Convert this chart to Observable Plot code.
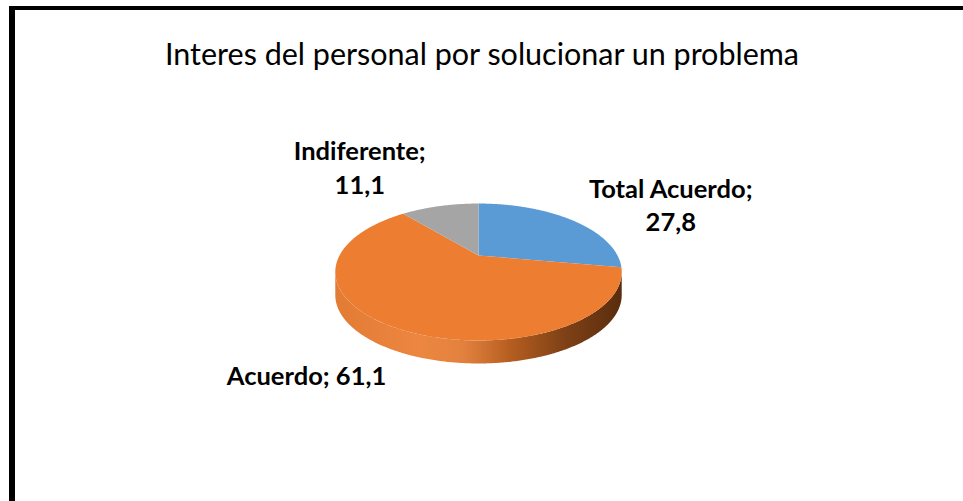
<!DOCTYPE html>
<html>
<head>
<meta charset="utf-8">
<script src="https://cdn.jsdelivr.net/npm/d3@7"></script>
<script src="https://cdn.jsdelivr.net/npm/@observablehq/plot@0.6"></script>
<style>
  html, body { margin: 0; padding: 0; background: #fff; overflow: hidden; }
  #wrap { position: relative; width: 963px; height: 501px; overflow: hidden; }
  #border { position: absolute; left: 9px; top: 6px; width: 1000px; height: 600px;
            border-left: 6px solid #000; border-top: 4px solid #000; box-sizing: border-box; }
  #chart { position: absolute; left: 0; top: 0; }
</style>
</head>
<body>
<div id="wrap"><div id="border"></div><div id="chart"></div></div>
<script>
// ---- data ----
const title = "Interes del personal por solucionar un problema";
const categories = ["Total Acuerdo", "Acuerdo", "Indiferente"];
const values = [27.8, 61.1, 11.1];
const valueLabels = ["27,8", "61,1", "11,1"];
const colors = ["#5b9bd5", "#ed7d31", "#a5a5a5"];

// ---- layout (3D perspective pie) ----
const W = 963, H = 501;
const cx = 478, cy = 255, a = 139, b = 64.5, c = 0.241, depth = 23;
function proj(theta, r = 1) {
  const X = r * Math.sin(theta), Z = -r * Math.cos(theta);
  const d = 1 - c * Z;
  return [cx + a * X / d, cy + b * Z / d];
}
const step = Math.PI / 360;
function arcPts(t0, t1, r = 1, dy = 0) {
  const n = Math.max(2, Math.ceil(Math.abs(t1 - t0) / step));
  const pts = [];
  for (let i = 0; i <= n; i++) {
    const t = t0 + (t1 - t0) * i / n;
    const [x, y] = proj(t, r);
    pts.push([x, y + dy]);
  }
  return pts;
}

const pie = d3.pie().sort(null).value((d, i) => values[i]);
const arcs = pie(categories);

// top faces
const topRows = [];
arcs.forEach((s, i) => {
  const pts = [[cx, cy], ...arcPts(s.startAngle, s.endAngle)];
  pts.forEach(([x, y]) => topRows.push({key: categories[i], cat: categories[i], x, y}));
});

// front walls (visible between the silhouette angles)
const th1 = Math.acos(-c), th2 = 2 * Math.PI - th1;
const wallRows = [];
arcs.forEach((s, i) => {
  const lo = Math.max(s.startAngle, th1), hi = Math.min(s.endAngle, th2);
  if (lo < hi) {
    const pts = [...arcPts(lo, hi), ...arcPts(hi, lo, 1, depth)];
    pts.forEach(([x, y]) => wallRows.push({key: categories[i], cat: categories[i], x, y}));
  }
});

// shadow
const shadowRows = arcPts(0, 2 * Math.PI, 1.01, depth + 4).map(([x, y]) => ({x, y}));
// rim bevel
const rimRows = arcPts(0, 2 * Math.PI, 0.978).map(([x, y]) => ({x, y}));

// labels
const labelShift = [[100, -16], [-84, 48], [-80, -40]];
const labelRows = arcs.map((s, i) => {
  const [x, y] = proj((s.startAngle + s.endAngle) / 2);
  const txt = i === 1 ? `${categories[i]}; ${valueLabels[i]}` : `${categories[i]};\n${valueLabels[i]}`;
  return {x: x + labelShift[i][0], y: y + labelShift[i][1], txt};
});

const chart = Plot.plot({
  width: W, height: H, margin: 0,
  x: {domain: [0, W], range: [0, W], axis: null},
  y: {domain: [0, H], range: [0, H], axis: null},
  color: {domain: categories, range: colors},
  marks: [
    Plot.line(shadowRows, {x: "x", y: "y", fill: "#000", fillOpacity: 0.2, stroke: "none", curve: "linear-closed", ariaLabel: "shadow"}),
    Plot.line(wallRows, {x: "x", y: "y", z: "key", fill: "url(#wallGrad)", stroke: "none", curve: "linear-closed"}),
    Plot.line(topRows, {x: "x", y: "y", z: "key", fill: "cat", stroke: "none", curve: "linear-closed"}),
    Plot.line(rimRows, {x: "x", y: "y", fill: "none", stroke: "url(#rimGrad)", strokeWidth: 5, curve: "linear-closed", ariaLabel: "rim"}),
    Plot.text([title], {text: d => d, frameAnchor: "top", dy: 55, lineAnchor: "middle", fontSize: 30.5, fontFamily: "Lato", fill: "#000"}),
    Plot.text(labelRows, {x: "x", y: "y", text: "txt", fontSize: 25.5, fontWeight: "bold", fontFamily: "Lato", lineHeight: 1.32, lineAnchor: "middle", fill: "#000"})
  ]
});

const svg = d3.select(chart);
const defs = svg.insert("defs", ":first-child");
const wg = defs.append("linearGradient").attr("id", "wallGrad").attr("gradientUnits", "userSpaceOnUse")
  .attr("x1", cx - 143).attr("x2", cx + 143).attr("y1", 0).attr("y2", 0);
[[0, "#e27c35"], [0.3, "#ec8640"], [0.45, "#e2813e"], [0.62, "#b35c1f"], [0.8, "#7f4116"], [1, "#5a2d0e"]]
  .forEach(([o, col]) => wg.append("stop").attr("offset", o).attr("stop-color", col));
const rg = defs.append("linearGradient").attr("id", "rimGrad").attr("gradientUnits", "userSpaceOnUse")
  .attr("x1", cx - 143).attr("x2", cx + 143).attr("y1", cy - 60).attr("y2", cy + 80);
[[0, "#fff", 0.16], [0.4, "#fff", 0.06], [0.65, "#000", 0.04], [1, "#000", 0.28]]
  .forEach(([o, col, op]) => rg.append("stop").attr("offset", o).attr("stop-color", col).attr("stop-opacity", op));
const f = defs.append("filter").attr("id", "blur").attr("x", "-20%").attr("y", "-20%").attr("width", "140%").attr("height", "140%");
f.append("feGaussianBlur").attr("stdDeviation", 4);
svg.select('g[aria-label="shadow"]').attr("filter", "url(#blur)");
const f2 = defs.append("filter").attr("id", "soft").attr("x", "-10%").attr("y", "-10%").attr("width", "120%").attr("height", "120%");
f2.append("feGaussianBlur").attr("stdDeviation", 1.2);
svg.select('g[aria-label="rim"]').attr("filter", "url(#soft)");
chart.style.background = "transparent";

document.getElementById("chart").appendChild(chart);
</script>
</body>
</html>
